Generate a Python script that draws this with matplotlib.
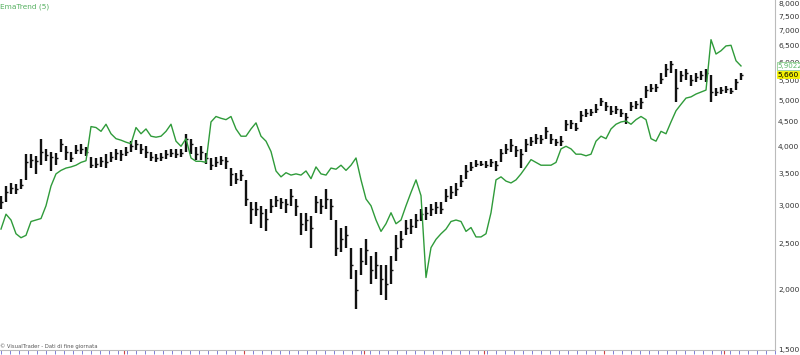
import numpy as np
import matplotlib
matplotlib.use("Agg")
import matplotlib.pyplot as plt
from matplotlib.ticker import FixedLocator, FuncFormatter
import matplotlib.transforms as mtransforms

# price bars (one every ~5 px of the reference)
closes = [3050, 3200, 3270, 3260, 3320, 3700, 3750, 3720, 3900, 3830,
          3800, 3780, 4050, 3900, 3780, 3930, 3950, 3900, 3660, 3680,
          3720, 3700, 3800, 3880, 3850, 3900, 4000, 4050, 3950, 3900,
          3800, 3780, 3800, 3850, 3880, 3860, 3870, 4150, 4050, 3850,
          3900, 3780, 3650, 3700, 3740, 3720, 3500, 3420, 3480, 3100,
          2950, 2950, 2900, 2820, 3000, 3080, 3050, 3020, 3150, 3000,
          2750, 2800, 2700, 3050, 3000, 3100, 3000, 2450, 2550, 2600,
          2250, 2000, 2300, 2420, 2200, 2250, 2100, 2050, 2200, 2450,
          2550, 2700, 2720, 2800, 2880, 2900, 2950, 2980, 2960, 3150,
          3200, 3250, 3380, 3550, 3620, 3680, 3680, 3660, 3700, 3650,
          3870, 3950, 4020, 3920, 3850, 4050, 4100, 4170, 4150, 4300,
          4150, 4080, 4100, 4450, 4480, 4380, 4650, 4700, 4720, 4800,
          4980, 4850, 4750, 4780, 4700, 4600, 4850, 4900, 4950, 5250,
          5300, 5320, 5550, 5800, 5950, 5300, 5650, 5700, 5500, 5600,
          5650, 5700, 5200, 5200, 5250, 5280, 5220, 5450, 5660]

highs = [3150, 3300, 3350, 3330, 3420, 3850, 3850, 3820, 4150, 3950,
         3900, 3880, 4150, 4000, 3900, 4020, 4050, 3980, 3800, 3780,
         3800, 3850, 3900, 3950, 3920, 3980, 4100, 4120, 4050, 4000,
         3900, 3850, 3880, 3920, 3950, 3940, 3950, 4250, 4150, 3980,
         4000, 3880, 3780, 3800, 3820, 3800, 3600, 3520, 3560, 3400,
         3050, 3050, 3000, 2950, 3100, 3150, 3120, 3100, 3250, 3100,
         2900, 2900, 2850, 3150, 3100, 3250, 3100, 2800, 2700, 2720,
         2450, 2200, 2450, 2550, 2350, 2400, 2250, 2250, 2350, 2600,
         2650, 2800, 2820, 2880, 2950, 2980, 3020, 3050, 3050, 3250,
         3300, 3350, 3480, 3650, 3700, 3740, 3730, 3720, 3760, 3720,
         3950, 4050, 4150, 4000, 3950, 4150, 4180, 4250, 4230, 4400,
         4250, 4150, 4200, 4550, 4550, 4480, 4750, 4780, 4800, 4900,
         5050, 4950, 4850, 4850, 4780, 4700, 4950, 4980, 5050, 5350,
         5400, 5400, 5700, 5950, 6050, 5800, 5750, 5800, 5650, 5700,
         5750, 5800, 5650, 5300, 5330, 5350, 5300, 5550, 5700]

lows = [2950, 3050, 3180, 3170, 3250, 3400, 3600, 3500, 3650, 3720,
        3550, 3650, 3900, 3750, 3700, 3850, 3850, 3820, 3600, 3600,
        3620, 3600, 3700, 3750, 3720, 3820, 3900, 3920, 3850, 3780,
        3720, 3700, 3720, 3760, 3800, 3780, 3800, 3900, 3850, 3750,
        3750, 3680, 3560, 3620, 3650, 3580, 3300, 3330, 3380, 3000,
        2750, 2850, 2700, 2650, 2900, 2980, 2950, 2900, 3000, 2850,
        2600, 2650, 2450, 2900, 2880, 2950, 2800, 2350, 2400, 2450,
        2100, 1820, 2150, 2250, 2050, 2100, 1950, 1900, 2050, 2300,
        2450, 2600, 2620, 2700, 2780, 2800, 2860, 2880, 2880, 3050,
        3100, 3150, 3280, 3420, 3550, 3620, 3630, 3600, 3620, 3550,
        3700, 3850, 3900, 3800, 3600, 3900, 4000, 4050, 4050, 4150,
        4050, 4000, 4000, 4300, 4350, 4300, 4500, 4600, 4620, 4700,
        4850, 4750, 4650, 4680, 4600, 4450, 4750, 4800, 4800, 5050,
        5200, 5200, 5400, 5600, 5700, 4950, 5450, 5500, 5350, 5450,
        5500, 5450, 4950, 5100, 5150, 5180, 5150, 5250, 5500]

# EmaTrend (5) line, same bar grid
ema_trend = [2680, 2880, 2800, 2620, 2570, 2600, 2780, 2800, 2820, 3000,
             3300, 3500, 3560, 3600, 3620, 3650, 3700, 3730, 4400, 4380,
             4300, 4450, 4250, 4150, 4120, 4080, 4050, 4380, 4250, 4350,
             4200, 4180, 4200, 4300, 4450, 4100, 4000, 4150, 3780, 3720,
             3720, 3700, 4500, 4620, 4580, 4550, 4620, 4350, 4200, 4200,
             4350, 4480, 4200, 4100, 3900, 3550, 3450, 3520, 3480, 3500,
             3480, 3550, 3420, 3620, 3500, 3480, 3600, 3580, 3650, 3560,
             3650, 3780, 3400, 3100, 3000, 2800, 2650, 2750, 2900, 2750,
             2800, 3000, 3200, 3400, 3150, 2120, 2450, 2550, 2620, 2680,
             2780, 2800, 2780, 2650, 2700, 2580, 2580, 2620, 2900, 3400,
             3450, 3380, 3350, 3400, 3500, 3620, 3750, 3700, 3650, 3650,
             3650, 3700, 3950, 4000, 3950, 3850, 3850, 3820, 3850, 4100,
             4200, 4150, 4350, 4450, 4500, 4520, 4450, 4550, 4620, 4550,
             4150, 4100, 4300, 4250, 4500, 4750, 4900, 5050, 5080, 5150,
             5200, 5250, 6700, 6250, 6350, 6500, 6520, 6050, 5900]

y_ticks = [1500, 2000, 2500, 3000, 3500, 4000, 4500, 5000, 5500, 6000,
           6500, 7000, 7500, 8000]
ema_label = "5,9022"
last_label = "5,660"

fig = plt.figure(figsize=(8, 3.55), dpi=100)
ax = fig.add_axes([0, 5 / 355, 775 / 800, 350 / 355])

idx = np.arange(len(closes))
ax.vlines(idx, lows, highs, color="#111111", linewidth=1.7)
ax.hlines(closes, idx, idx + 0.45, color="#111111", linewidth=1.0)
ax.plot(idx, ema_trend, color="#2f9b3a", linewidth=1.0)

ax.set_yscale("log")
ax.set_ylim(1493, 8117)
ax.set_xlim(-0.2, 154.8)

ax.yaxis.tick_right()
ax.yaxis.set_major_locator(FixedLocator(y_ticks))
ax.yaxis.set_minor_locator(FixedLocator([]))
ax.yaxis.set_major_formatter(FuncFormatter(lambda v, p: f"{v:,.0f}"))
ax.tick_params(axis="y", which="both", length=0, pad=2.2,
               labelsize=5.4, labelcolor="#333333")

# date ticks along bottom
ax.set_xticks(np.arange(0, 155, 1.8), minor=True)
ax.set_xticks(np.arange(24.6, 155, 24))
ax.set_xticklabels([])
ax.tick_params(axis="x", which="minor", length=3, width=0.6, colors="#6a6ad0",
               direction="out")
ax.tick_params(axis="x", which="major", length=3, width=0.8, colors="#d04040",
               direction="out")

for side in ["top", "left"]:
    ax.spines[side].set_visible(False)
ax.spines["right"].set_color("#bbbbbb")
ax.spines["bottom"].set_color("#bbbbbb")
ax.spines["right"].set_linewidth(0.8)
ax.spines["bottom"].set_linewidth(0.8)

ax.text(0.0, 0.99, "EmaTrend (5)", transform=ax.transAxes, fontsize=5.3,
        color="#55b060", va="top", ha="left")
ax.text(0.0, 0.004, "\u00a9 VisualTrader - Dati di fine giornata",
        transform=ax.transAxes, fontsize=3.8, color="#555555",
        va="bottom", ha="left")

trans = mtransforms.blended_transform_factory(ax.transAxes, ax.transData)
ax.text(1.003, ema_trend[-1], ema_label, transform=trans, fontsize=5.1,
        color="#5fb86a", va="center", ha="left", clip_on=False, zorder=10,
        bbox=dict(boxstyle="square,pad=0.1", fc="white", ec="#8fcf8f", lw=0.6))
ax.text(1.003, closes[-1], last_label, transform=trans, fontsize=5.4,
        color="black", va="center", ha="left", clip_on=False, zorder=10,
        bbox=dict(boxstyle="square,pad=0.1", fc="#f2f000", ec="#f2f000", lw=0.6))

fig.savefig("out.png", dpi=100)
